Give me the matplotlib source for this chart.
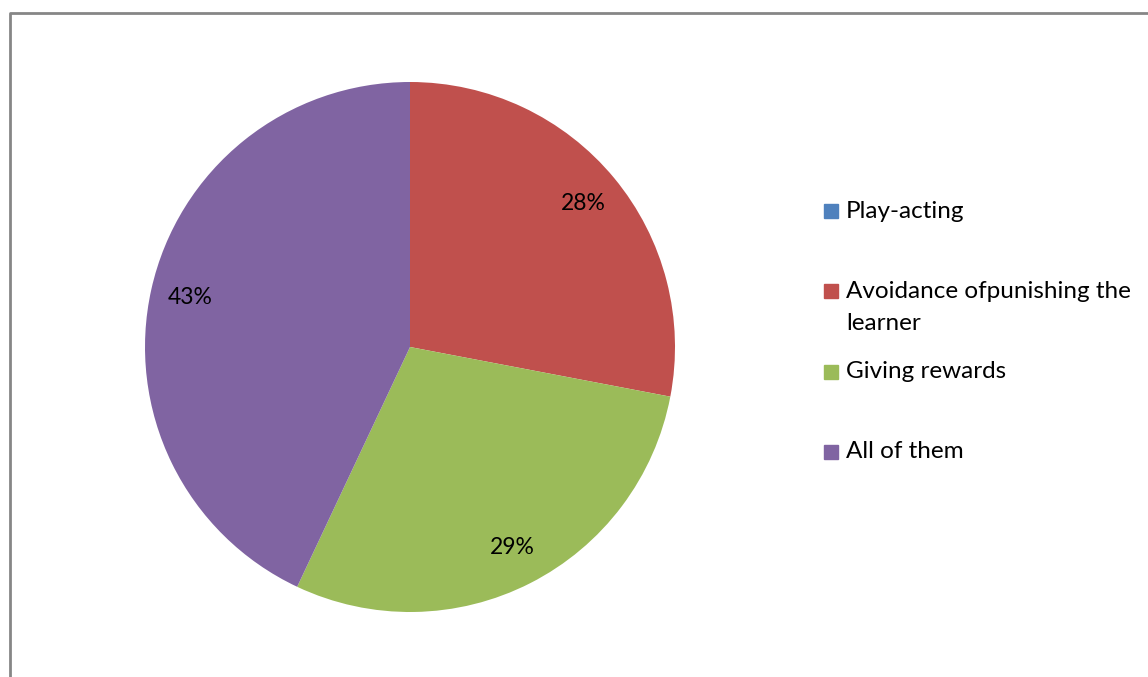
import matplotlib.pyplot as plt
from matplotlib.patches import Rectangle
from matplotlib.lines import Line2D

# Strategies used with learners (share of answers)
categories = ["Play-acting", "Avoidance ofpunishing the\nlearner", "Giving rewards", "All of them"]
values = [0, 28, 29, 43]
colors = ["#4F81BD", "#C0504D", "#9BBB59", "#8064A2"]

W, H = 1148, 677
fig = plt.figure(figsize=(W / 100, H / 100), dpi=100)
plt.rcParams['font.family'] = ['Lato', 'DejaVu Sans']

# pie area
ax = fig.add_axes([145 / W, 1 - 612 / H, 530 / W, 530 / H])
wedges, texts, autotexts = ax.pie(
    values, colors=colors, startangle=90, counterclock=False,
    autopct=lambda p: "%d%%" % round(p) if p > 0 else "",
    pctdistance=0.85, radius=1,
    textprops={'fontsize': 16.5, 'color': 'black'})
ax.set_xlim(-1, 1)
ax.set_ylim(-1, 1)
ax.set_aspect('equal')
ax.axis('off')

# chart border (left and top edges only visible)
fig.add_artist(Line2D([9.5 / W, 9.5 / W, 1.0], [0.0, 1 - 12.5 / H, 1 - 12.5 / H],
                      transform=fig.transFigure, color="#868686", lw=2))

# legend, drawn by hand to keep Excel-like spacing
legend_y = [211, 291, 372, 452]
line_step = 32
for name, c, y in zip(categories, colors, legend_y):
    fig.add_artist(Rectangle((824 / W, 1 - (y + 7) / H), 14 / W, 14 / H,
                             transform=fig.transFigure, color=c))
    for i, line in enumerate(name.split("\n")):
        fig.text(846 / W, 1 - (y + i * line_step) / H, line, fontsize=17.5,
                 va='center', ha='left', transform=fig.transFigure)

fig.savefig("out.png", dpi=100)
